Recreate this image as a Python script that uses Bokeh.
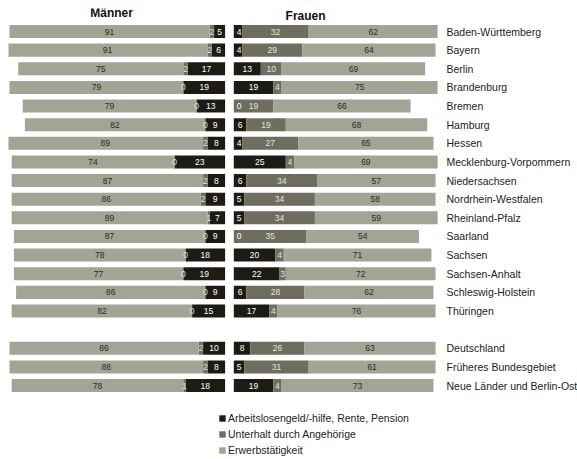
from bokeh.plotting import figure
from bokeh.models import Range1d, FixedTicker, Label, Legend, LegendItem, ColumnDataSource
from bokeh.core.properties import value
from bokeh.embed import file_html
from bokeh.resources import INLINE

states = ["Baden-Württemberg", "Bayern", "Berlin", "Brandenburg", "Bremen", "Hamburg",
          "Hessen", "Mecklenburg-Vorpommern", "Niedersachsen", "Nordrhein-Westfalen",
          "Rheinland-Pfalz", "Saarland", "Sachsen", "Sachsen-Anhalt",
          "Schleswig-Holstein", "Thüringen"]
totals = ["Deutschland", "Früheres Bundesgebiet", "Neue Länder und Berlin-Ost"]

series_names = ["Arbeitslosengeld/-hilfe, Rente, Pension",
                "Unterhalt durch Angehörige",
                "Erwerbstätigkeit"]

# Männer
m_rente = [5, 6, 17, 19, 13, 9, 8, 23, 8, 9, 7, 9, 18, 19, 9, 15, 10, 8, 18]
m_unterhalt = [2, 2, 2, 0, 0, 0, 2, 0, 2, 2, 1, 0, 0, 0, 0, 0, 2, 2, 1]
m_erwerb = [91, 91, 75, 79, 79, 82, 89, 74, 87, 86, 89, 87, 78, 77, 86, 82, 86, 88, 78]
# Frauen
f_rente = [4, 4, 13, 19, 0, 6, 4, 25, 6, 5, 5, 0, 20, 22, 6, 17, 8, 5, 19]
f_unterhalt = [32, 29, 10, 4, 19, 19, 27, 4, 34, 34, 34, 35, 4, 3, 28, 4, 26, 31, 4]
f_erwerb = [62, 64, 69, 75, 66, 68, 65, 69, 57, 58, 59, 54, 71, 72, 62, 76, 63, 61, 73]

colors = ["#1c1b14", "#6e6d60", "#a3a396"]
text_colors = ["#ffffff", "#e4e4dc", "#2a2a2a"]
FONT = "Liberation Sans"

categories = states + totals
ys = list(range(len(states))) + [len(states) + 1 + i for i in range(len(totals))]

p = figure(frame_width=432, frame_height=451, output_backend="svg", toolbar_location=None,
           x_range=Range1d(-108.32, 99.38), y_range=Range1d(22.97, -1.235),
           x_axis_location=None, y_axis_location="right",
           min_border_left=8, min_border_right=0, min_border_top=8, min_border_bottom=0)
p.extra_x_ranges = {"m": Range1d(98.45, -97.91)}
p.outline_line_color = None
p.xgrid.visible = False
p.ygrid.visible = False
p.background_fill_color = "white"
p.border_fill_color = "white"

H = 0.70


def stack(vals_list, range_name):
    lefts = [0] * len(ys)
    rends = []
    for k, vals in enumerate(vals_list):
        rights = [l + v for l, v in zip(lefts, vals)]
        src = ColumnDataSource(dict(y=ys, left=lefts, right=rights))
        kw = {} if range_name is None else {"x_range_name": range_name}
        r = p.hbar(y="y", left="left", right="right", height=H, source=src,
                   fill_color=colors[k], line_color=None, **kw)
        rends.append(r)
        lefts = rights
    return rends


def labels(vals_list, range_name, minx):
    lefts = [0] * len(ys)
    for k, vals in enumerate(vals_list):
        rights = [l + v for l, v in zip(lefts, vals)]
        xc = [max((l + r) / 2, minx) if k == 0 else (l + r) / 2 for l, r in zip(lefts, rights)]
        src = ColumnDataSource(dict(y=ys, x=xc, t=[str(v) for v in vals]))
        kw = {} if range_name is None else {"x_range_name": range_name}
        p.text(x="x", y="y", text="t", source=src, text_align="center", text_baseline="middle",
               text_font=value(FONT), text_font_size="8.5px", text_color=text_colors[k], **kw)
        lefts = rights


m_rends = stack([m_rente, m_unterhalt, m_erwerb], "m")
f_rends = stack([f_rente, f_unterhalt, f_erwerb], None)
labels([m_rente, m_unterhalt, m_erwerb], "m", 0)
labels([f_rente, f_unterhalt, f_erwerb], None, 2.5)

ax = p.yaxis[0]
ax.ticker = FixedTicker(ticks=ys)
ax.major_label_overrides = {y: c for y, c in zip(ys, categories)}
ax.axis_line_color = None
ax.major_tick_line_color = None
ax.minor_tick_line_color = None
ax.major_tick_out = 0
ax.major_tick_in = 0
ax.minor_tick_out = 0
ax.major_label_standoff = 6
ax.major_label_text_font = FONT
ax.major_label_text_font_size = "10.5px"
ax.major_label_text_color = "#222222"

p.add_layout(Label(x=51.6, y=-0.97, x_range_name="m", text="Männer", text_align="center",
                   text_baseline="middle", text_font=FONT, text_font_size="12px",
                   text_font_style="bold", text_color="#111111"))
p.add_layout(Label(x=34.5, y=-0.83, text="Frauen", text_align="center",
                   text_baseline="middle", text_font=FONT, text_font_size="12px",
                   text_font_style="bold", text_color="#111111"))

legend = Legend(items=[LegendItem(label=series_names[k], renderers=[m_rends[k]]) for k in range(3)],
                location=(210, 3), orientation="vertical", glyph_width=8, glyph_height=8,
                label_standoff=2, spacing=4, label_height=12, padding=0, margin=0,
                border_line_color=None, background_fill_alpha=0,
                label_text_font=FONT, label_text_font_size="10.5px", label_text_color="#222222")
p.add_layout(legend)

open("out.html", "w").write(file_html(p, INLINE))
